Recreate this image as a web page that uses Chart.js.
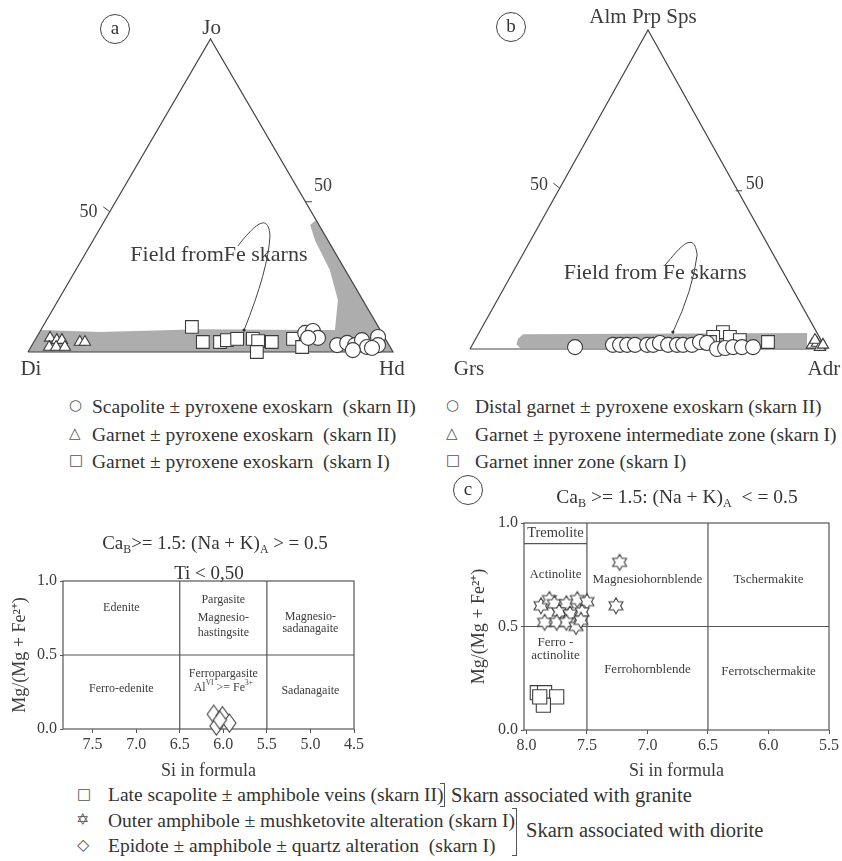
<!DOCTYPE html>
<html>
<head>
<meta charset="utf-8">
<script src="https://cdn.jsdelivr.net/npm/chart.js@4.4.1/dist/chart.umd.min.js"></script>
<style>
  body { margin: 0; background: #fff; }
  #page { position: relative; width: 842px; height: 861px; overflow: hidden;
          font-family: "Liberation Serif", "Times New Roman", serif; color: #333; }
  canvas { position: absolute; }
  .t { position: absolute; white-space: pre; line-height: 1; }
  .sym { position: absolute; line-height: 1; font-family: "DejaVu Sans", sans-serif; color: #555; }
  .circ { position: absolute; width: 28px; height: 28px; border: 1.3px solid #444; border-radius: 50%;
          text-align: center; line-height: 26px; font-size: 19px; }
  .br { position: absolute; border: 1.2px solid #555; border-left: none; width: 4px; }
  sub { font-size: 62%; vertical-align: -0.3em; line-height: 0; }
  .lg { font-size: 19.5px; }
</style>
</head>
<body>
<div id="page">
  <canvas id="ta" width="420" height="385" style="left:0;top:0"></canvas>
  <canvas id="tb" width="422" height="385" style="left:420px;top:0"></canvas>
  <canvas id="ml" width="420" height="255" style="left:0;top:525px"></canvas>
  <canvas id="mr" width="372" height="300" style="left:470px;top:480px"></canvas>

  <div class="circ" style="left:100px;top:14px">a</div>
  <div class="circ" style="left:496px;top:12px">b</div>
  <div class="circ" style="left:453px;top:475px">c</div>

  <!-- pyroxene legend -->
  <div class="sym" style="left:69px;top:398px;font-size:15px">○</div>
  <div class="t lg" style="left:92px;top:397px">Scapolite ± pyroxene exoskarn  (skarn II)</div>
  <div class="sym" style="left:69px;top:426px;font-size:15px">△</div>
  <div class="t lg" style="left:92px;top:425px">Garnet ± pyroxene exoskarn  (skarn II)</div>
  <div class="sym" style="left:69px;top:453px;font-size:15px">□</div>
  <div class="t lg" style="left:92px;top:452px">Garnet ± pyroxene exoskarn  (skarn I)</div>

  <!-- garnet legend -->
  <div class="sym" style="left:446px;top:398px;font-size:15px">○</div>
  <div class="t lg" style="left:475px;top:397px">Distal garnet ± pyroxene exoskarn (skarn II)</div>
  <div class="sym" style="left:446px;top:426px;font-size:15px">△</div>
  <div class="t lg" style="left:475px;top:425px">Garnet ± pyroxene intermediate zone (skarn I)</div>
  <div class="sym" style="left:446px;top:453px;font-size:15px">□</div>
  <div class="t lg" style="left:475px;top:452px">Garnet inner zone (skarn I)</div>

  <!-- amphibole titles -->
  <div class="t" style="left:15px;width:400px;text-align:center;top:533px;font-size:19px">Ca<sub>B</sub>&gt;= 1.5: (Na + K)<sub>A</sub> &gt; = 0.5</div>
  <div class="t" style="left:109px;width:200px;text-align:center;top:563px;font-size:19px">Ti &lt; 0,50</div>
  <div class="t" style="left:527px;width:300px;text-align:center;top:487px;font-size:19.5px">Ca<sub>B</sub> &gt;= 1.5: (Na + K)<sub>A</sub>  &lt; = 0.5</div>

  <!-- amphibole legend -->
  <div class="sym" style="left:77px;top:787px;font-size:15px">□</div>
  <div class="t lg" style="left:108px;top:785px">Late scapolite ± amphibole veins (skarn II)</div>
  <div class="br" style="left:440px;top:783px;height:22px"></div>
  <div class="t" style="left:451px;top:785px;font-size:20.5px">Skarn associated with granite</div>
  <div class="sym" style="left:76px;top:812px;font-size:16px">✡</div>
  <div class="t lg" style="left:108px;top:811px">Outer amphibole ± mushketovite alteration (skarn I)</div>
  <div class="sym" style="left:77px;top:837px;font-size:16px">◇</div>
  <div class="t lg" style="left:108px;top:836px">Epidote ± amphibole ± quartz alteration  (skarn I)</div>
  <div class="br" style="left:512px;top:808px;height:46px"></div>
  <div class="t" style="left:526px;top:820px;font-size:20.5px">Skarn associated with diorite</div>
</div>

<script>
// (a) pyroxene, [Hd, Jo] mol %
const pyxScapoliteII = [[72.9, 6.1], [74.7, 6.7], [77.2, 4.5], [74.5, 4.5], [83.6, 2.2], [86.0, 2.9], [88.5, 2.2],
                        [89.6, 3.8], [92.1, 1.6], [93.5, 4.8], [94.8, 2.2], [88.7, 0.6], [93.6, 1.3]];
const pyxGarnetII = [[3.8, 4.5], [6.0, 3.8], [7.4, 3.8], [5.0, 1.6], [6.9, 1.6], [9.3, 1.6], [12.6, 3.2], [14.0, 3.2]];
const pyxGarnetI = [[40.9, 8.0], [46.3, 3.2], [51.0, 3.2], [52.6, 3.8], [55.2, 4.2], [59.5, 4.2], [61.3, 3.5],
                    [65.2, 3.2], [62.7, 0.0], [70.5, 4.2], [74.3, 1.6]];
const pyxFeField = [[0, 0], [0, 7.0], [16.5, 6.4], [43.5, 7.3], [71.0, 7.0], [80.6, 7.0], [76.6, 16.6],
                    [69.6, 26.2], [60.7, 35.8], [57.0, 40.6], [57.8, 42.2], [100, 0]];

// (b) garnet, [Adr, Alm+Prp+Sps] mol %
const grtDistalII = [[29.2, 0.6], [39.5, 1.3], [41.5, 1.3], [43.5, 1.3], [45.7, 1.3], [49.1, 1.3], [50.8, 1.3],
                     [52.4, 1.9], [55.0, 1.3], [57.5, 1.3], [59.2, 1.3], [61.7, 1.3], [63.5, 2.2], [65.6, 1.9],
                     [69.4, 0.0], [71.5, 0.3], [73.6, 0.6], [76.1, 0.6], [79.2, 0.6]];
const grtIntermediateI = [[95.4, 1.3], [96.5, 1.9], [98.0, 0.6], [95.5, 2.8], [98.5, 1.3]];
const grtInnerI = [[82.6, 2.2], [68.4, 5.3], [66.4, 3.8], [71.1, 3.8], [74.4, 2.8], [66.3, 2.2]];
const grtFeField = [[13.9, 0.3], [12.3, 1.5], [11.9, 3.2], [12.6, 4.6], [92.2, 5.0], [94.5, 0.3]];

// (c) amphibole, [Si apfu, Mg/(Mg+Fe2+)]
const amphVeinsII = [[7.91, 0.18], [7.85, 0.18], [7.75, 0.16], [7.86, 0.12], [7.89, 0.16]];
const amphOuterI = [[7.23, 0.81], [7.26, 0.60], [7.88, 0.60], [7.81, 0.63], [7.77, 0.61], [7.67, 0.61],
                    [7.58, 0.63], [7.50, 0.62], [7.73, 0.57], [7.64, 0.56], [7.54, 0.57], [7.85, 0.52],
                    [7.75, 0.52], [7.67, 0.52], [7.59, 0.50], [7.55, 0.53]];
const amphEpidoteI = [[6.11, 0.10], [6.01, 0.09], [5.93, 0.04], [6.08, 0.02], [6.04, 0.06]];

const siTicksLeft = [7.5, 7.0, 6.5, 6.0, 5.5, 5.0, 4.5];
const siTicksRight = [8.0, 7.5, 7.0, 6.5, 6.0, 5.5];
const mgTicks = [0.0, 0.5, 1.0];

// classification boundaries, Leake (1997)
const boundsAlkali = [[[6.5, 0], [6.5, 1]], [[5.5, 0], [5.5, 1]], [[7.84, 0.5], [4.5, 0.5]]];
const boundsCalcic = [[[7.5, 0], [7.5, 1]], [[6.5, 0], [6.5, 1]], [[8.02, 0.5], [5.5, 0.5]], [[8.02, 0.9], [7.5, 0.9]]];

const FONT = '"Liberation Serif", "Times New Roman", serif';
const INK = '#3c3c3c';
const LINE = '#555';
Chart.defaults.font.family = FONT;
Chart.defaults.color = INK;

// ternary -> cartesian, right-corner component along the base, apex component up
function tern(p) { return { x: p[0] + p[1] / 2, y: p[1] }; }
function xy(p) { return { x: p[0], y: p[1] }; }

function drawRich(ctx, text, cx, cy, size, weight) {
  const segs = typeof text === 'string' ? [[text]] : text;
  const fontOf = s => (weight || '') + ' ' + (s[1] ? size * 0.62 : size) + 'px ' + FONT;
  let w = 0;
  segs.forEach(s => { ctx.font = fontOf(s); w += ctx.measureText(s[0]).width; });
  let x = cx - w / 2;
  ctx.textAlign = 'left';
  ctx.textBaseline = 'middle';
  segs.forEach(s => {
    ctx.font = fontOf(s);
    const dy = s[1] === 'sup' ? -size * 0.35 : s[1] === 'sub' ? size * 0.3 : 0;
    ctx.fillText(s[0], x, cy + dy);
    x += ctx.measureText(s[0]).width;
  });
}

function starImage(r) {
  const s = Math.ceil(r * 2 + 4), c = document.createElement('canvas');
  c.width = c.height = s;
  const g = c.getContext('2d');
  g.translate(s / 2, s / 2);
  g.beginPath();
  for (let i = 0; i < 12; i++) {
    const a = -Math.PI / 2 + i * Math.PI / 6, rr = i % 2 ? r / Math.sqrt(3) : r;
    g.lineTo(rr * Math.cos(a), rr * Math.sin(a));
  }
  g.closePath();
  g.fillStyle = '#fff'; g.fill();
  g.strokeStyle = INK; g.lineWidth = 1.1; g.stroke();
  return c;
}

function diamondImage(w, h) {
  const c = document.createElement('canvas');
  c.width = w + 4; c.height = h + 4;
  const g = c.getContext('2d');
  g.translate(c.width / 2, c.height / 2);
  g.beginPath();
  g.moveTo(0, -h / 2); g.lineTo(w / 2, 0); g.lineTo(0, h / 2); g.lineTo(-w / 2, 0);
  g.closePath();
  g.fillStyle = '#fff'; g.fill();
  g.strokeStyle = INK; g.lineWidth = 1.1; g.stroke();
  return c;
}

// gray compositional field under the points
const fieldFill = {
  id: 'fieldFill',
  beforeDatasetsDraw(chart, args, opts) {
    const { ctx, scales: { x, y } } = chart;
    ctx.save();
    ctx.fillStyle = opts.color;
    ctx.beginPath();
    opts.points.forEach((p, i) => {
      const q = tern(p), px = x.getPixelForValue(q.x), py = y.getPixelForValue(q.y);
      if (i) ctx.lineTo(px, py); else ctx.moveTo(px, py);
    });
    ctx.closePath();
    ctx.fill();
    ctx.restore();
  }
};

// corner names, 50 % ticks and the leader line to the field
const ternLabels = {
  id: 'ternLabels',
  afterDatasetsDraw(chart, args, opts) {
    const { ctx, scales: { x, y } } = chart;
    const P = p => [x.getPixelForValue(p[0]), y.getPixelForValue(p[1])];
    ctx.save();
    ctx.fillStyle = INK;
    opts.texts.forEach(t => { const q = P(t.at); drawRich(ctx, t.text, q[0], q[1], t.size); });
    ctx.strokeStyle = '#444';
    ctx.lineWidth = 1;
    opts.ticks.forEach(t => {
      const a = P(t[0]), b = P(t[1]);
      ctx.beginPath(); ctx.moveTo(a[0], a[1]); ctx.lineTo(b[0], b[1]); ctx.stroke();
    });
    const path = opts.leader;
    ctx.beginPath();
    const s = P(path[0]);
    ctx.moveTo(s[0], s[1]);
    path.slice(1).forEach(seg => {
      const pts = [];
      for (let i = 0; i < seg.length; i += 2) pts.push(...P([seg[i], seg[i + 1]]));
      if (pts.length === 6) ctx.bezierCurveTo(...pts); else ctx.quadraticCurveTo(...pts);
    });
    ctx.stroke();
    const e = path[path.length - 1], ep = P([e[e.length - 2], e[e.length - 1]]);
    ctx.beginPath(); ctx.arc(ep[0], ep[1], 1.6, 0, Math.PI * 2); ctx.fillStyle = '#333'; ctx.fill();
    ctx.restore();
  }
};

const boxFrame = {
  id: 'boxFrame',
  beforeDatasetsDraw(chart) {
    const { ctx, chartArea: a } = chart;
    ctx.save();
    ctx.strokeStyle = LINE; ctx.lineWidth = 1.2;
    ctx.strokeRect(a.left, a.top, a.right - a.left, a.bottom - a.top);
    ctx.restore();
  }
};

const regionLabels = {
  id: 'regionLabels',
  afterDatasetsDraw(chart, args, opts) {
    const { ctx, scales: { x, y } } = chart;
    ctx.save();
    ctx.fillStyle = INK;
    opts.items.forEach(it => {
      drawRich(ctx, it.text, x.getPixelForValue(it.x), y.getPixelForValue(it.y), it.size || opts.size, it.weight);
    });
    ctx.restore();
  }
};

function markers(data, conv, style, radius) {
  return {
    data: data.map(conv), pointStyle: style, pointRadius: radius, pointBorderWidth: 1.1,
    pointBackgroundColor: '#fff', pointBorderColor: INK, clip: false
  };
}

function outline() {
  return {
    data: [{ x: 0, y: 0 }, { x: 100, y: 0 }, { x: 50, y: 100 }, { x: 0, y: 0 }],
    showLine: true, borderColor: '#444', borderWidth: 1.2, pointRadius: 0, clip: false
  };
}

function ternOptions(pad, field, labels) {
  return {
    responsive: false, animation: false, events: [],
    layout: { padding: pad },
    scales: { x: { display: false, min: 0, max: 100 }, y: { display: false, min: 0, max: 100 } },
    plugins: { legend: { display: false }, tooltip: { enabled: false },
               fieldFill: { color: '#adadad', points: field }, ternLabels: labels }
  };
}

new Chart(document.getElementById('ta'), {
  type: 'scatter',
  data: { datasets: [
    markers(pyxScapoliteII, tern, 'circle', 7.5),
    markers(pyxGarnetI, tern, 'rect', 9),
    markers(pyxGarnetII, tern, 'triangle', 6.5),
    outline()
  ] },
  options: ternOptions({ left: 28, right: 27, top: 39, bottom: 33 }, pyxFeField, {
    texts: [
      { text: 'Di', at: [0.8, -5.6], size: 21 },
      { text: 'Hd', at: [99.7, -5.6], size: 21 },
      { text: 'Jo', at: [50.3, 103.5], size: 21 },
      { text: '50', at: [16.6, 44.6], size: 18 },
      { text: '50', at: [80.8, 52.8], size: 18 },
      { text: 'Field fromFe skarns', at: [52.3, 31.0], size: 22 }
    ],
    ticks: [[[22.4, 44.8], [20.6, 46.4]], [[76.0, 48.0], [77.8, 48.0]]],
    leader: [[57.5, 33.9], [61.4, 39.6, 65.8, 45.4, 66.3, 37.1], [65.8, 26.2, 59.2, 7.0]]
  }),
  plugins: [fieldFill, ternLabels]
});

new Chart(document.getElementById('tb'), {
  type: 'scatter',
  data: { datasets: [
    markers(grtIntermediateI, tern, 'triangle', 6.5),
    markers(grtDistalII, tern, 'circle', 7.5),
    markers(grtInnerI, tern, 'rect', 9),
    outline()
  ] },
  options: ternOptions({ left: 50, right: 16, top: 30, bottom: 36 }, grtFeField, {
    texts: [
      { text: 'Grs', at: [-0.3, -6.3], size: 21 },
      { text: 'Adr', at: [99.4, -6.3], size: 21 },
      { text: 'Alm Prp Sps', at: [48.6, 103.8], size: 21 },
      { text: '50', at: [19.4, 51.4], size: 18 },
      { text: '50', at: [80.0, 51.7], size: 18 },
      { text: 'Field from Fe skarns', at: [52.0, 23.8], size: 22 }
    ],
    ticks: [[[25.2, 50.4], [23.4, 52.0]], [[74.6, 49.6], [76.4, 49.6]]],
    leader: [[54.8, 26.3], [58.4, 31.0, 62.9, 37.9, 63.8, 29.5], [62.6, 18.5, 57.0, 5.3]]
  }),
  plugins: [fieldFill, ternLabels]
});

function boundaryLines(bounds) {
  return bounds.map(b => ({
    data: b.map(xy), showLine: true, borderColor: LINE, borderWidth: 1.2, pointRadius: 0, clip: false
  }));
}

function amphScales(xmin, xmax, xticks, yWidth, xHeight, yTitlePad) {
  const tickFont = { size: 16 };
  return {
    x: {
      type: 'linear', reverse: true, min: xmin, max: xmax,
      afterBuildTicks: s => { s.ticks = xticks.map(v => ({ value: v })); },
      afterFit: s => { s.height = xHeight; },
      ticks: { font: tickFont, color: INK, padding: 2, maxRotation: 0, autoSkip: false, callback: v => v.toFixed(1) },
      grid: { drawOnChartArea: false, tickLength: 4, color: LINE },
      border: { display: false },
      title: { display: true, text: 'Si in formula', font: { size: 18, lineHeight: 1 }, color: INK, padding: 0 }
    },
    y: {
      min: 0, max: 1,
      afterBuildTicks: s => { s.ticks = mgTicks.map(v => ({ value: v })); },
      afterFit: s => { s.width = yWidth; },
      ticks: { font: tickFont, color: INK, padding: 3, callback: v => v.toFixed(1) },
      grid: { drawOnChartArea: false, tickLength: 3, color: LINE },
      border: { display: false },
      title: { display: true, text: 'Mg/(Mg + Fe²⁺)', font: { size: 18, lineHeight: 1 }, color: INK,
               padding: { top: yTitlePad, bottom: 0 } }
    }
  };
}

new Chart(document.getElementById('ml'), {
  type: 'scatter',
  data: { datasets: [markers(amphEpidoteI, xy, diamondImage(13, 18), 9)].concat(boundaryLines(boundsAlkali)) },
  options: {
    responsive: false, animation: false, events: [],
    layout: { padding: { top: 56, right: 66, left: 0, bottom: 0 } },
    scales: amphScales(4.5, 7.84, siTicksLeft, 63, 51, 11),
    plugins: {
      legend: { display: false }, tooltip: { enabled: false },
      regionLabels: { size: 12, items: [
        { text: 'Edenite', x: 7.17, y: 0.82 },
        { text: 'Ferro-edenite', x: 7.17, y: 0.27 },
        { text: 'Pargasite', x: 6.0, y: 0.87 },
        { text: 'Magnesio-', x: 6.0, y: 0.75 },
        { text: 'hastingsite', x: 6.0, y: 0.65 },
        { text: 'Ferropargasite', x: 6.0, y: 0.37 },
        { text: [['Al'], ['VI', 'sup'], [' >= Fe'], ['3+', 'sup']], x: 6.0, y: 0.28 },
        { text: 'Magnesio-', x: 5.0, y: 0.76 },
        { text: 'sadanagaite', x: 5.0, y: 0.68 },
        { text: 'Sadanagaite', x: 5.0, y: 0.26 }
      ] }
    }
  },
  plugins: [boxFrame, regionLabels]
});

new Chart(document.getElementById('mr'), {
  type: 'scatter',
  data: { datasets: [
    markers(amphOuterI, xy, starImage(8), 8),
    markers(amphVeinsII, xy, 'rect', 10)
  ].concat(boundaryLines(boundsCalcic)) },
  options: {
    responsive: false, animation: false, events: [],
    layout: { padding: { top: 43, right: 13, left: 0, bottom: 0 } },
    scales: amphScales(5.5, 8.02, siTicksRight, 54, 50, 0),
    plugins: {
      legend: { display: false }, tooltip: { enabled: false },
      regionLabels: { size: 13, items: [
        { text: 'Tremolite', x: 7.76, y: 0.95, size: 14.5 },
        { text: 'Actinolite', x: 7.76, y: 0.75 },
        { text: 'Magnesiohornblende', x: 7.0, y: 0.725 },
        { text: 'Tschermakite', x: 6.0, y: 0.725 },
        { text: 'Ferro -', x: 7.76, y: 0.42 },
        { text: 'actinolite', x: 7.76, y: 0.36 },
        { text: 'Ferrohornblende', x: 7.0, y: 0.29 },
        { text: 'Ferrotschermakite', x: 6.0, y: 0.28 }
      ] }
    }
  },
  plugins: [boxFrame, regionLabels]
});
</script>
</body>
</html>
